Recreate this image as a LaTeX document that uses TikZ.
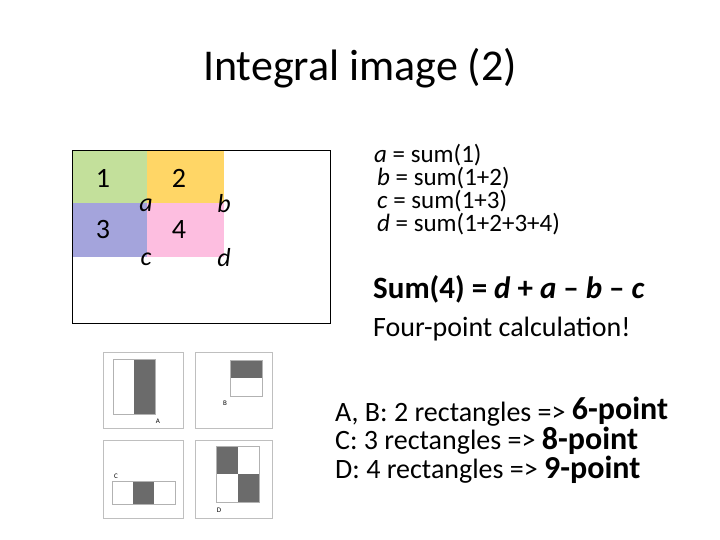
\documentclass[tikz,border=0pt]{standalone}
\usepackage{fontspec}
\setmainfont{Carlito}
\tikzset{
  panel/.style={draw=black!25,line width=1pt},
  inner/.style={draw=black!30,line width=1pt},
  shade/.style={fill=black!58},
  small/.style={font=\fontsize{7}{8}\selectfont},
  txt/.style={anchor=west,inner sep=0pt,font=\fontsize{28}{28}\selectfont},
  sumtxt/.style={anchor=west,inner sep=0pt,font=\fontsize{25}{25}\selectfont},
  num/.style={font=\fontsize{28}{28}\selectfont},
  lab/.style={font=\fontsize{26}{26}\selectfont\itshape},
}
\newcommand{\bigpt}[1]{{\fontsize{32}{32}\selectfont\bfseries #1}}
\begin{document}
\begin{tikzpicture}[x=1pt,y=-1pt]
\useasboundingbox (0,0) rectangle (720,540);
\node[font=\fontsize{44}{46}\selectfont] (title) at (360,68) {Integral image (2)};
% big figure
\fill[fill={rgb,255:red,195;green,224;blue,155}] (72,150) rectangle (147,203);
\fill[fill={rgb,255:red,255;green,214;blue,102}] (147,150) rectangle (224,203);
\fill[fill={rgb,255:red,164;green,164;blue,220}] (72,203) rectangle (147,257);
\fill[fill={rgb,255:red,253;green,190;blue,224}] (147,203) rectangle (224,257);
\node[draw,line width=0.8pt,minimum width=258pt,minimum height=173pt,inner sep=0pt] (big) at (201,236.5) {};
\node[num] (n1) at (103,178) {1};
\node[num] (n2) at (179,178) {2};
\node[num] (n3) at (103,230) {3};
\node[num] (n4) at (179,230) {4};
\node[lab] (la) at (146,205) {a};
\node[lab] (lb) at (224,204) {b};
\node[lab] (lc) at (146,259) {c};
\node[lab] (ld) at (224,258) {d};
% right text
\node[sumtxt] (t1) at (374,155) {\textit{a} = sum(1)};
\node[sumtxt] (t2) at (377,178) {\textit{b} = sum(1+2)};
\node[sumtxt] (t3) at (377,201) {\textit{c} = sum(1+3)};
\node[sumtxt] (t4) at (377,224) {\textit{d} = sum(1+2+3+4)};
\node[txt,font=\fontsize{31}{31}\selectfont\bfseries] (s) at (373,289) {Sum(4) = \textit{d} + \textit{a} – \textit{b} – \textit{c}};
\node[txt] (f) at (373,329) {Four-point calculation!};
\node[txt] (ab) at (335,412) {A, B: 2 rectangles => \raisebox{2pt}{\bigpt{6-point}}};
\node[txt] (cc) at (335,441) {C: 3 rectangles => \bigpt{8-point}};
\node[txt] (dd) at (335,470) {D: 4 rectangles => \bigpt{9-point}};
% thumbnails
\draw[panel] (103,352) rectangle (183,428);
\draw[panel] (195,352) rectangle (272,428);
\draw[panel] (103,440) rectangle (183,518);
\draw[panel] (195,440) rectangle (272,518);
% A
\fill[shade] (134,359) rectangle (155,414);
\draw[inner] (113,359) rectangle (155,414);
\node[small] (lA) at (158,421) {A};
% B
\fill[shade] (230,360) rectangle (262,378);
\draw[inner] (230,360) rectangle (262,396);
\node[small] (lB) at (225,403) {B};
% C
\fill[shade] (133,481) rectangle (154,504);
\draw[inner] (112,481) rectangle (175,504);
\node[small] (lC) at (116,476) {C};
% D
\fill[shade] (216,446) rectangle (238,474);
\fill[shade] (238,474) rectangle (259,502);
\draw[inner] (216,446) rectangle (259,502);
\node[small] (lD) at (219,510) {D};
\end{tikzpicture}
\end{document}
